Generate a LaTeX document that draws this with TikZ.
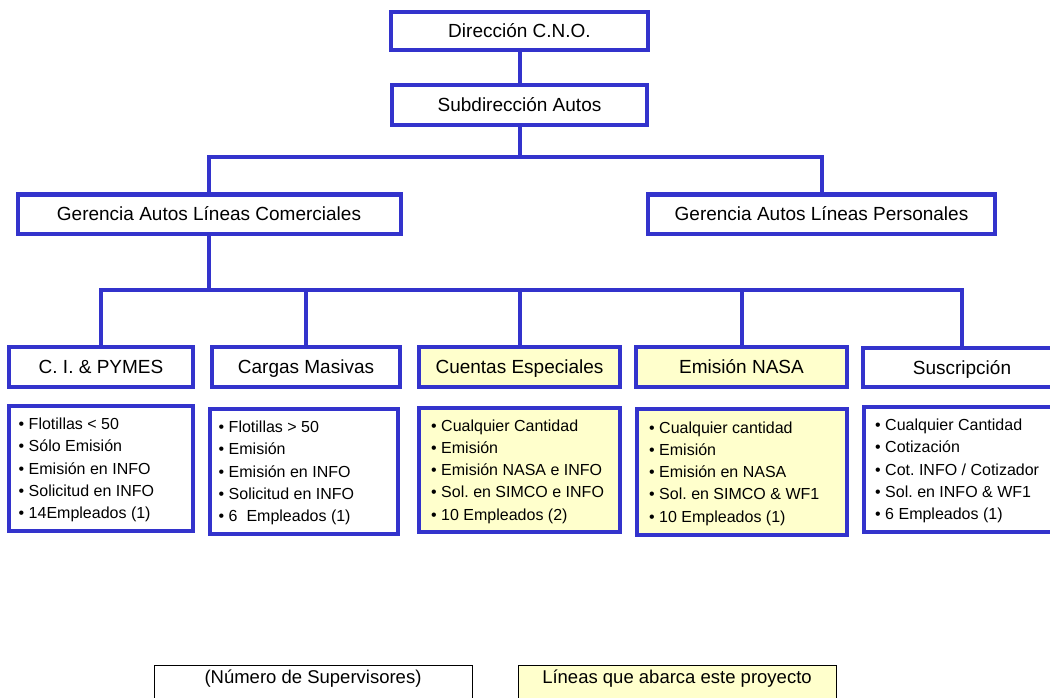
\documentclass[tikz,border=0pt]{standalone}
\usepackage{fontspec}
\setmainfont{Liberation Sans}
\frenchspacing
\definecolor{orgblue}{RGB}{51,51,204}
\definecolor{projyellow}{RGB}{255,255,204}
\tikzset{
  orgbox/.style={draw=orgblue, line width=4pt, fill=white, inner sep=0pt,
    font=\fontsize{19}{23}\selectfont, text height=13.6pt, text depth=0pt},
  projbox/.style={fill=projyellow},
  detailbox/.style={draw=orgblue, line width=4pt, fill=white, inner sep=0pt},
  itemlist/.style={anchor=west, inner sep=0pt, align=left, yshift=-1.5pt,
    font=\fontsize{16}{22.3}\selectfont},
  conn/.style={draw=orgblue, line width=4pt},
  legendbox/.style={draw=black, line width=0.8pt, inner sep=0pt, anchor=north},
  legendtext/.style={font=\fontsize{18.5}{22}\selectfont, inner sep=0pt}
}
\newcommand{\bl}{\textbullet\ }
\begin{document}
\begin{tikzpicture}[x=1pt, y=-1pt]
\useasboundingbox (0,0) rectangle (1050,698);

% top management
\node[orgbox, minimum width=257, minimum height=38] (dir) at (519.5,31) {Dirección C.N.O.};
\node[orgbox, minimum width=255, minimum height=40] (sub) at (519.5,105) {Subdirección Autos};
\node[orgbox, minimum width=383, minimum height=39] (gc) at (209,214) {Gerencia Autos Líneas Comerciales};
\node[orgbox, minimum width=347, minimum height=39] (gp) at (821.5,214) {Gerencia Autos Líneas Personales};

% commercial lines
\node[orgbox, minimum width=184, minimum height=40] (ci) at (101,367) {C. I. \& PYMES};
\node[orgbox, minimum width=188, minimum height=40] (cm) at (306,367) {Cargas Masivas};
\node[orgbox, projbox, minimum width=201, minimum height=40] (ce) at (519.5,367) {Cuentas Especiales};
\node[orgbox, projbox, minimum width=211, minimum height=40] (en) at (741.5,367) {Emisión NASA};
\node[orgbox, minimum width=198, minimum height=39] (su) at (962,367.5) {Suscripción};

% details of each line
\node[detailbox, minimum width=184, minimum height=125] (cid) at (101,468.5) {};
\node[detailbox, minimum width=188, minimum height=125] (cmd) at (304,471.5) {};
\node[detailbox, projbox, minimum width=201, minimum height=124] (ced) at (519.5,470) {};
\node[detailbox, projbox, minimum width=210, minimum height=126] (end) at (742,472) {};
\node[detailbox, minimum width=198, minimum height=125] (sud) at (963,469.5) {};

\node[itemlist] (cil) at ([xshift=11.5pt]cid.west)
  {\bl Flotillas < 50\\ \bl Sólo Emisión\\ \bl Emisión en INFO\\ \bl Solicitud en INFO\\ \bl 14Empleados (1)};
\node[itemlist] (cml) at ([xshift=10.5pt]cmd.west)
  {\bl Flotillas > 50\\ \bl Emisión\\ \bl Emisión en INFO\\ \bl Solicitud en INFO\\ \bl 6\ \ Empleados (1)};
\node[itemlist] (cel) at ([xshift=14pt]ced.west)
  {\bl Cualquier Cantidad\\ \bl Emisión\\ \bl Emisión NASA e INFO\\ \bl Sol. en SIMCO e INFO\\ \bl 10 Empleados (2)};
\node[itemlist] (enl) at ([xshift=14pt]end.west)
  {\bl Cualquier cantidad\\ \bl Emisión\\ \bl Emisión en NASA\\ \bl Sol. en SIMCO \& WF1\\ \bl 10 Empleados (1)};
\node[itemlist] (sul) at ([xshift=13pt]sud.west)
  {\bl Cualquier Cantidad\\ \bl Cotización\\ \bl Cot. INFO / Cotizador\\ \bl Sol. en INFO \& WF1\\ \bl 6 Empleados (1)};

% connectors
\coordinate (busA) at (519.5,157);
\coordinate (busB) at (209,290);
\draw[conn] (dir) -- (sub);
\draw[conn] (sub.south) -- (busA);
\draw[conn] (gc.north) |- (busA) -| (gp.north);
\draw[conn] (gc.south) -- (busB);
\draw[conn] (ci.north) |- (busB) -| (su.north);
\draw[conn] (cm.north) -- (cm.north |- busB);
\draw[conn] (ce.north) -- (ce.north |- busB);
\draw[conn] (en.north) -- (en.north |- busB);

% legend
\node[legendbox, fill=white, minimum width=318, minimum height=50] (lg1) at (313,665) {};
\node[legendtext] (lg1t) at (313,678.5) {(Número de Supervisores)};
\node[legendbox, fill=projyellow, minimum width=318, minimum height=50] (lg2) at (677,665) {};
\node[legendtext] (lg2t) at (677,678.5) {Líneas que abarca este proyecto};
\end{tikzpicture}
\end{document}
